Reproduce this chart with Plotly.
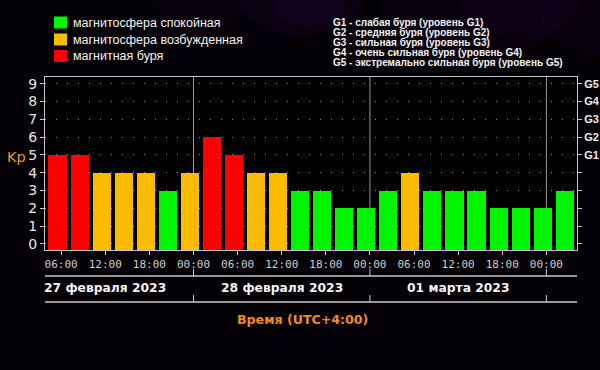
import plotly.graph_objects as go

# ---- data ----
bar_times = [
    "2023-02-27 05:30", "2023-02-27 08:30", "2023-02-27 11:30", "2023-02-27 14:30",
    "2023-02-27 17:30", "2023-02-27 20:30", "2023-02-27 23:30", "2023-02-28 02:30",
    "2023-02-28 05:30", "2023-02-28 08:30", "2023-02-28 11:30", "2023-02-28 14:30",
    "2023-02-28 17:30", "2023-02-28 20:30", "2023-02-28 23:30", "2023-03-01 02:30",
    "2023-03-01 05:30", "2023-03-01 08:30", "2023-03-01 11:30", "2023-03-01 14:30",
    "2023-03-01 17:30", "2023-03-01 20:30", "2023-03-01 23:30", "2023-03-02 02:30",
]
kp_values = [5, 5, 4, 4, 4, 3, 4, 6,
             5, 4, 4, 3, 3, 2, 2, 3,
             4, 3, 3, 3, 2, 2, 2, 3]
kp_ticks = list(range(10))
g_ticktext = ["", "", "", "", "", "G1", "G2", "G3", "G4", "G5"]
day_centers = ["2023-02-27 12:00", "2023-02-28 12:00", "2023-03-01 12:00"]
day_labels = ["27 февраля 2023", "28 февраля 2023", "01 марта 2023"]
midnights = ["2023-02-28 00:00", "2023-03-01 00:00", "2023-03-02 00:00"]
legend_labels = ["магнитосфера спокойная", "магнитосфера возбужденная", "магнитная буря"]
g_lines = [
    "G1 - слабая буря (уровень G1)",
    "G2 - средняя буря (уровень G2)",
    "G3 - сильная буря (уровень G3)",
    "G4 - очень сильная буря (уровень G4)",
    "G5 - экстремально сильная буря (уровень G5)",
]

# ---- style ----
GREEN, ORANGE, RED = "#00f500", "#fbbc00", "#fe0000"
legend_colors = [GREEN, ORANGE, RED]
W, H = 600, 370
L, R, T, B = 45, 23, 77, 120
PW, PH = W - L - R, H - T - B
Y_MIN, Y_MAX = -0.34, 9.38
BAR_W = 3 * 3600 * 1000 * 0.82
AXC = "#c8c8c8"


def colour(v):
    if v >= 5:
        return RED
    if v >= 4:
        return ORANGE
    return GREEN


def px(x):
    return (x - L) / PW


def py(y):
    return (H - B - y) / PH


fig = go.Figure()
fig.add_trace(go.Bar(
    x=bar_times, y=[v - Y_MIN for v in kp_values], base=Y_MIN,
    width=BAR_W, marker=dict(color=[colour(v) for v in kp_values], line=dict(width=0)),
    showlegend=False, hoverinfo="skip",
))
fig.add_trace(go.Scatter(x=[bar_times[0]], y=[0], yaxis="y2", mode="markers",
                         marker=dict(opacity=0), showlegend=False, hoverinfo="skip"))

shapes = []
# purple haze at the top
for cx, cy, r, a in [(300, 0, 60, 0.10), (310, 5, 35, 0.10), (470, 10, 90, 0.06),
                     (520, 0, 60, 0.07), (200, 0, 50, 0.05), (600, 20, 60, 0.05)]:
    shapes.append(dict(type="circle", xref="paper", yref="paper", layer="below",
                       x0=px(cx - r), x1=px(cx + r), y0=py(cy + r * 0.6), y1=py(cy - r * 0.6),
                       fillcolor=f"rgba(90,20,130,{a})", line=dict(width=0)))
# midnight separators
for m in midnights:
    shapes.append(dict(type="line", xref="x", yref="paper", layer="below",
                       x0=m, x1=m, y0=0, y1=1, line=dict(color="#9a9a9a", width=1)))
    shapes.append(dict(type="line", xref="x", yref="paper",
                       x0=m, x1=m, y0=py(269), y1=py(276), line=dict(color=AXC, width=1)))
    shapes.append(dict(type="line", xref="x", yref="paper",
                       x0=m, x1=m, y0=py(295), y1=py(302), line=dict(color=AXC, width=1)))
# date band lines
for yy in (276, 302):
    shapes.append(dict(type="line", xref="paper", yref="paper", x0=0, x1=1,
                       y0=py(yy), y1=py(yy), line=dict(color=AXC, width=1.5)))
# legend squares
for i, c in enumerate(legend_colors):
    yc = [22.5, 39.5, 56][i]
    shapes.append(dict(type="rect", xref="paper", yref="paper",
                       x0=px(54), x1=px(67), y0=py(yc + 6), y1=py(yc - 6),
                       fillcolor=c, line=dict(width=0)))

ann = []
for i, t in enumerate(legend_labels):
    ann.append(dict(text=t, xref="paper", yref="paper", x=px(71), y=py([23, 40, 56][i]),
                    xanchor="left", yanchor="middle", showarrow=False,
                    font=dict(family="Liberation Sans", size=12.5, color="#f2f2f2")))
for i, t in enumerate(g_lines):
    ann.append(dict(text=t, xref="paper", yref="paper", x=px(331), y=py(22.5 + 10.1 * i),
                    xanchor="left", yanchor="middle", showarrow=False,
                    font=dict(family="Liberation Sans", size=10, color="#f2f2f2", weight="bold")))
for c, t in zip(day_centers, day_labels):
    ann.append(dict(text=f"<b>{t}</b>", xref="x", yref="paper", x=c, y=py(288),
                    xanchor="center", yanchor="middle", showarrow=False,
                    font=dict(family="DejaVu Sans", size=12.3, color="#f4f4f4")))
ann.append(dict(text="Kp", xref="paper", yref="paper", x=px(5), y=py(157),
                xanchor="left", yanchor="middle", showarrow=False,
                font=dict(family="DejaVu Sans", size=14.5, color="#e99a2a")))
ann.append(dict(text="<b>Время (UTC+4:00)</b>", xref="paper", yref="paper", x=px(302), y=py(319),
                xanchor="center", yanchor="middle", showarrow=False,
                font=dict(family="DejaVu Sans", size=12.6, color="#f08c1c")))

fig.update_layout(
    width=W, height=H, margin=dict(l=L, r=R, t=T, b=B, autoexpand=False),
    paper_bgcolor="#030105", plot_bgcolor="#000000",
    bargap=0, shapes=shapes, annotations=ann, showlegend=False,
    xaxis=dict(type="date", range=["2023-02-27 03:48", "2023-03-02 04:10"], automargin=False,
               tick0="2023-02-27 00:00", dtick=6 * 3600 * 1000, tickformat="%H:%M",
               ticks="outside", ticklen=4, tickcolor=AXC,
               showline=True, mirror=True, linecolor=AXC, linewidth=1,
               showgrid=False, zeroline=False,
               tickfont=dict(family="DejaVu Sans Mono", size=11, color="#cfcfcf")),
    yaxis=dict(range=[Y_MIN, Y_MAX], tickvals=kp_ticks, ticks="outside", ticklen=4,
               automargin=False,
               tickcolor=AXC, showline=True, linecolor=AXC, linewidth=1,
               showgrid=True, gridcolor="#8a8a8a", griddash="1px,10px", gridwidth=1,
               zeroline=False,
               tickfont=dict(family="DejaVu Sans", size=14, color="#e6e6e6")),
    yaxis2=dict(range=[Y_MIN, Y_MAX], overlaying="y", side="right", tickvals=kp_ticks,
                automargin=False,
                ticktext=g_ticktext, ticks="outside", ticklen=4, tickcolor=AXC,
                showline=True, linecolor=AXC, linewidth=1, showgrid=False, zeroline=False,
                tickfont=dict(family="Liberation Sans", size=11, color="#eeeeee", weight="bold")),
)

fig.write_html("out.html", config={"displayModeBar": False},
               post_script="document.body.style.margin='0';document.body.style.background='#030105';")
